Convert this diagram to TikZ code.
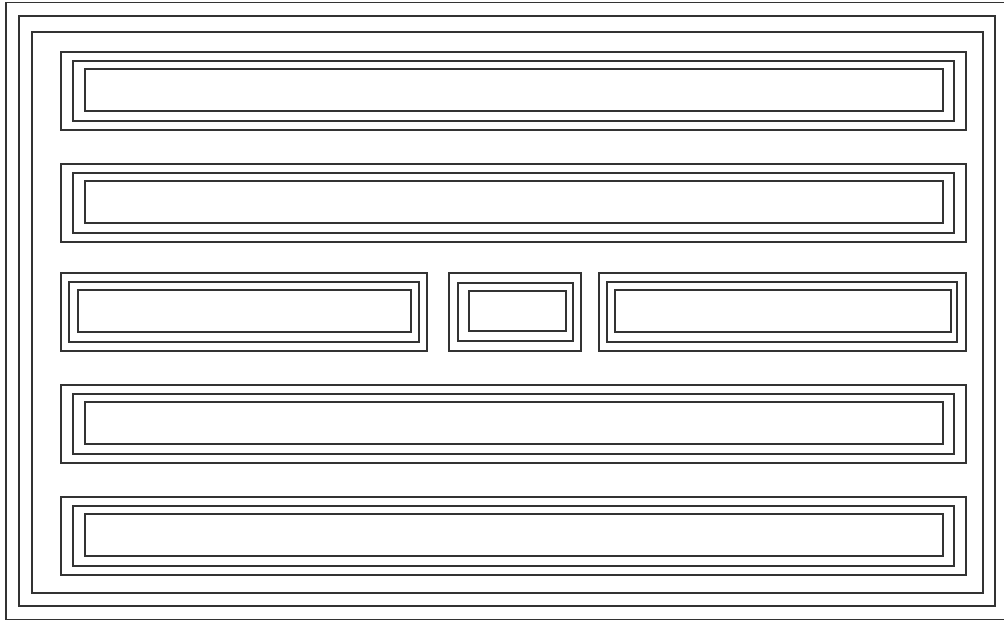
\documentclass[tikz,border=0pt]{standalone}
\begin{document}
\begin{tikzpicture}[x=1pt,y=-1pt,
  frame/.style={draw=black!80,line width=1.5pt}]
\useasboundingbox (0,0) rectangle (1004,621);
% outer frames
\begin{scope}
\clip (0,0) rectangle (1004,621);
\draw[frame] (6,2.5) rectangle (1008,619.5);
\end{scope}
\draw[frame] (19,16) rectangle (995,606);
\draw[frame] (32,32) rectangle (983,593);
% full-width rows
\foreach \t in {52,164,385,497}{
  \draw[frame] (61,\t) rectangle (966,\t+78);
  \draw[frame] (73,\t+9) rectangle (954,\t+69);
  \draw[frame] (85,\t+17) rectangle (943,\t+59);
}
% middle row
\draw[frame] (61,273) rectangle (427,351);
\draw[frame] (69,282) rectangle (419,342);
\draw[frame] (78,290) rectangle (411,332);
\draw[frame] (449,273) rectangle (581,351);
\draw[frame] (458,283) rectangle (573,341);
\draw[frame] (469,291) rectangle (566,331);
\draw[frame] (599,273) rectangle (966,351);
\draw[frame] (607,282) rectangle (957,342);
\draw[frame] (615,290) rectangle (951,332);
\end{tikzpicture}
\end{document}
